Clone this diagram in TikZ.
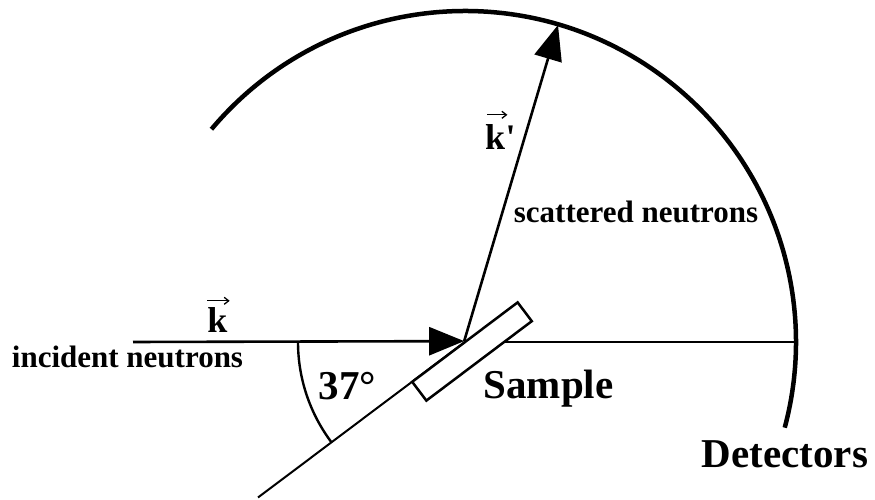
\documentclass[tikz,border=0pt]{standalone}
\usepackage{fontspec}
\setmainfont{Liberation Serif}
\usetikzlibrary{arrows.meta}
\begin{document}
\begin{tikzpicture}[x=1pt,y=1pt,
  lbl/.style={font=\bfseries\fontsize{31}{31}\selectfont, inner sep=0pt, anchor=base},
  vlbl/.style={font=\bfseries\fontsize{36}{36}\selectfont, inner sep=0pt, anchor=base},
  big/.style={font=\bfseries\fontsize{41}{41}\selectfont, inner sep=0pt, anchor=base},
  thinline/.style={line width=2pt},
  detector/.style={line width=4.5pt},
  vecarrow/.style={line width=2.6pt, -{Triangle[length=35pt,width=28pt]}},
  vecmark/.style={line width=1.3pt, -{Straight Barb[length=4.5pt,width=7pt]}},
  samplebox/.style={draw, line width=2.5pt, fill=white, rotate=37,
    minimum width=132pt, minimum height=23.5pt, inner sep=0pt}
]
\useasboundingbox (0,0) rectangle (875,500);
\coordinate (S) at (465,158);
\coordinate (R) at (796,158);
\coordinate (L) at (258,2.5);
\coordinate (I) at (133,158);
\coordinate (T) at (558,475);
% detector arc
\draw[detector] (S) ++(140:331) arc[start angle=140, end angle=-15, radius=331];
% reference lines
\draw[thinline] (S) -- (R);
\draw[thinline] (S) -- (L);
% angle arc
\draw[line width=2.4pt] (S) ++(180:167) arc[start angle=180, end angle=217, radius=167];
% sample
\node[samplebox] (sample) at (472,148.5) {};
% wave vectors
\draw[vecarrow] (I) -- (sample.north);
\draw[vecarrow] (sample.north) -- (T);
% labels
\node[vlbl] (kin) at (217.5,167) {k};
\draw[vecmark] ([yshift=7pt]kin.north west) -- ([xshift=2pt,yshift=7pt]kin.north east);
\node[lbl] (inc) at (127.5,132) {incident neutrons};
\node[big] (ang) at (347.5,100) {37°};
\node[big] (samp) at (548.5,101) {Sample};
\node[big] (det) at (785,32) {Detectors};
\node[vlbl, anchor=base west] (kout) at (485,350) {k};
\node[vlbl, anchor=base west] (prime) at (kout.base east) {\textquotesingle};
\draw[vecmark] ([xshift=2pt,yshift=10pt]kout.north west) -- ([xshift=2pt,yshift=10pt]kout.north east);
\node[lbl] (scat) at (636,277) {scattered neutrons};
\end{tikzpicture}
\end{document}
